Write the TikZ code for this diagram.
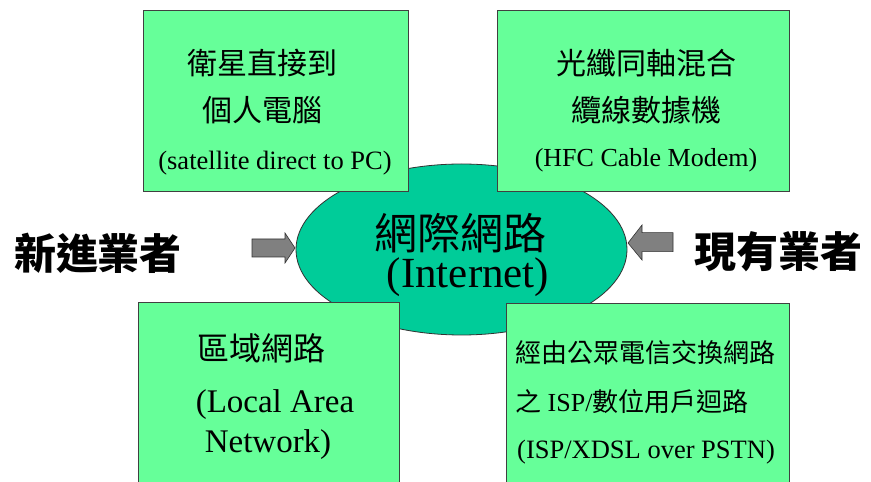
\documentclass[tikz,border=0pt]{standalone}
\usepackage{fontspec}
\setmainfont{Liberation Serif}
\newfontfamily\cjk{Noto Sans CJK TC}
\usetikzlibrary{shapes.geometric}
\definecolor{boxgreen}{RGB}{102,255,153}
\definecolor{netgreen}{RGB}{0,204,153}
\definecolor{arrgray}{RGB}{128,128,128}
\newcommand{\fs}[1]{\fontsize{#1}{#1}\selectfont}
\begin{document}
\begin{tikzpicture}[x=1pt,y=1pt,
  box/.style={draw=black!75, fill=boxgreen, line width=0.8pt, inner sep=0pt},
  net/.style={ellipse, draw=black!80, fill=netgreen, line width=0.8pt, inner sep=0pt},
  blockarrow/.style={draw=black!80, fill=arrgray, line width=0.6pt},
  txt/.style={inner sep=0pt, text=black}]
\useasboundingbox (0,0) rectangle (871,482);
\fill[white] (0,0) rectangle (871,482);

% central ellipse
\node[net, minimum width=331, minimum height=171] (net) at (461.5,232.5) {};

% boxes
\node[box, anchor=north west, minimum width=265, minimum height=181] (tl) at (143,472) {};
\node[box, anchor=north west, minimum width=292, minimum height=181] (tr) at (497,472) {};
\node[box, anchor=north west, minimum width=261, minimum height=200] (bl) at (138,180) {};
\node[box, anchor=north west, minimum width=283, minimum height=200] (br) at (506,179) {};

% block arrows
\coordinate (la) at (252,234);
\draw[blockarrow] (252,243) -- (285,243) -- (285,249) -- (295,234) -- (285,219) -- (285,225) -- (252,225) -- cycle;
\coordinate (ra) at (673,239);
\draw[blockarrow] (673,249.3) -- (642,249.3) -- (642,257) -- (628,239) -- (642,222) -- (642,230.3) -- (673,230.3) -- cycle;

% side labels
\node[txt] (newc) at (98,229) {\cjk\bfseries\fs{42}新進業者};
\node[txt] (oldc) at (778,230) {\cjk\bfseries\fs{42}現有業者};

% centre text
\node[txt] (net1) at (460,249) {\cjk\fs{43}網際網路};
\node[txt] (net2) at (468,205) {\fs{43}(Internet)};

% top-left
\node[txt] (tl1) at (262,419) {\cjk\fs{30}衛星直接到};
\node[txt] (tl2) at (262,372) {\cjk\fs{30}個人電腦};
\node[txt] (tl3) at (275,319) {\fs{26.5}(satellite direct to PC)};

% top-right
\node[txt] (tr1) at (646,419) {\cjk\fs{30}光纖同軸混合};
\node[txt] (tr2) at (646,372) {\cjk\fs{30}纜線數據機};
\node[txt] (tr3) at (646,322) {\fs{26}(HFC Cable Modem)};

% bottom-left
\node[txt] (bl1) at (261,134) {\cjk\fs{32}區域網路};
\node[txt] (bl2) at (275,77) {\fs{33}(Local Area};
\node[txt] (bl3) at (268,37) {\fs{33}Network)};

% bottom-right
\node[txt, anchor=west] (br1) at (515,129) {\cjk\fs{26}經由公眾電信交換網路};
\node[txt, anchor=west] (br2) at (515,80) {\fs{26}{\cjk 之} ISP/{\cjk 數位用戶迴路}};
\node[txt, anchor=west] (br3) at (517,30) {\fs{26.5}(ISP/XDSL over PSTN)};
\end{tikzpicture}
\end{document}
